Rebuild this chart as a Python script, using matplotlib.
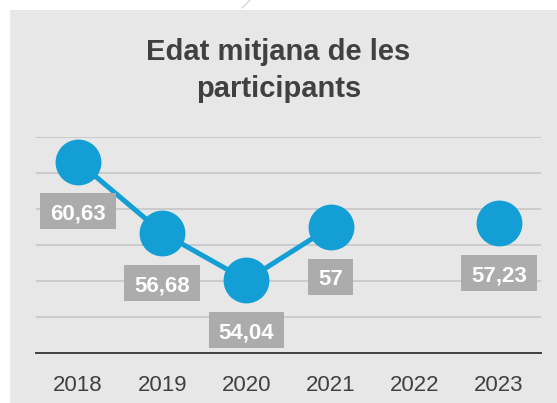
import matplotlib
matplotlib.use('Agg')
import matplotlib.pyplot as plt
from matplotlib.patches import Rectangle
from matplotlib.transforms import IdentityTransform
import numpy as np

plt.rcParams['font.family'] = ['Liberation Sans', 'DejaVu Sans']

years = ['2018', '2019', '2020', '2021', '2022', '2023']
ages = [60.63, 56.68, 54.04, 57.0, np.nan, 57.23]
labels = ['60,63', '56,68', '54,04', '57', '', '57,23']

W, H = 557, 403
fig = plt.figure(figsize=(W / 100, H / 100), dpi=100)
fig.patch.set_facecolor('white')
# grey chart area, offset from the top-left corner
fig.patches.append(Rectangle((10 / W, 0), 1, (H - 10) / H, transform=fig.transFigure,
                             facecolor='#e7e7e7', edgecolor='none', zorder=-1))
fig.lines.append(plt.Line2D([242 / W, 250 / W], [(H - 8) / H, 1], transform=fig.transFigure,
                            color='#d0d0d0', lw=0.8, zorder=-1))

ax = fig.add_axes([36 / W, (H - 353) / H, (541 - 36) / W, (353 - 137) / H])
ax.set_zorder(1)
ax.set_facecolor('none')
x = np.arange(len(years))
ax.plot(x, ages, color='#139fd6', lw=3.6, marker='o', ms=32, zorder=3)

texts = []
for xi, v, lab in zip(x, ages, labels):
  if np.isnan(v):
    continue
  t = ax.annotate(lab, (xi, v), xytext=(0, -38), textcoords='offset points',
                  ha='center', va='center', fontsize=16, fontweight='bold',
                  color='white', zorder=5)
  texts.append(t)

ax.set_xlim(-0.5, 5.5)
ax.set_ylim(50, 62)
ax.set_yticks(np.arange(52, 63, 2))
ax.yaxis.grid(True, color='#c8c8c8', lw=1.3)
ax.set_axisbelow(True)
ax.tick_params(axis='y', left=False, labelleft=False)
ax.set_xticks(x)
ax.set_xticklabels(years, fontsize=16, color='#404040')
ax.tick_params(axis='x', length=0, pad=16)
for s in ['top', 'left', 'right']:
  ax.spines[s].set_visible(False)
ax.spines['bottom'].set_color('#404040')
ax.spines['bottom'].set_linewidth(1.4)

fig.text(0.5, 1 - 60 / H, 'Edat mitjana de les', ha='center', va='baseline',
         fontsize=21, fontweight='bold', color='#404040')
fig.text(0.5, 1 - 96.7 / H, 'participants', ha='center', va='baseline',
         fontsize=21, fontweight='bold', color='#404040')

# grey label boxes: wider padding left/right than top/bottom
fig.canvas.draw()
r = fig.canvas.get_renderer()
for t in texts:
  bb = t.get_window_extent(r)
  cx = (bb.x0 + bb.x1) / 2
  cy = (bb.y0 + bb.y1) / 2 + 3
  w = bb.width + 20
  ax.add_artist(Rectangle((cx - w / 2, cy - 18), w, 36, transform=IdentityTransform(),
                          facecolor='#acacac', edgecolor='none', zorder=4))

plt.savefig('out.png', dpi=100)
